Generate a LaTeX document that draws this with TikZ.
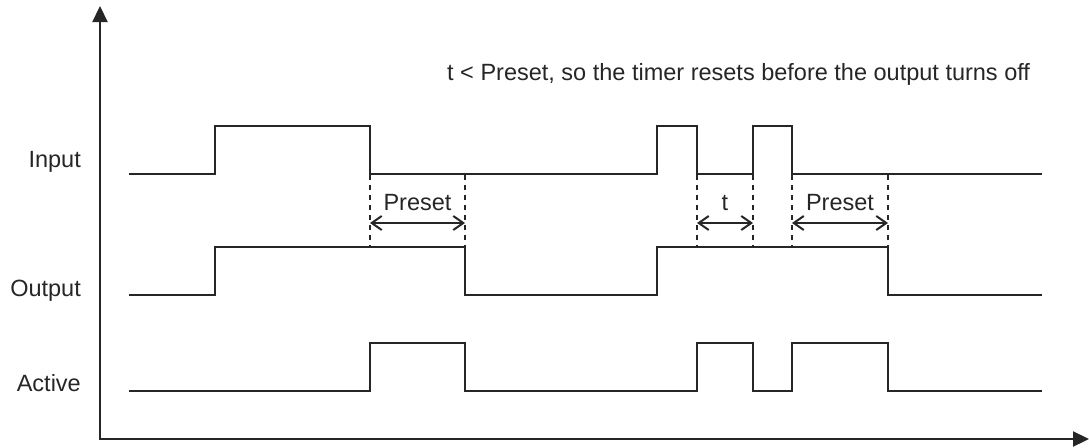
\documentclass[tikz,border=0pt]{standalone}
\usepackage{fontspec}
\setmainfont{Liberation Sans}
\usetikzlibrary{arrows.meta}
\begin{document}
\begin{tikzpicture}[x=1pt,y=-1pt,
  sig/.style={line width=2.4pt, line join=miter, line cap=rect, color=black!85},
  axisline/.style={line width=2.2pt, color=black!85},
  dashln/.style={line width=2.2pt, dash pattern=on 5pt off 5pt, color=black!85},
  dimarrow/.style={line width=1.3pt, color=black!85, {Straight Barb[length=10pt,width=14pt,line width=2pt]}-{Straight Barb[length=10pt,width=14pt,line width=2pt]}},
  lbl/.style={font=\fontsize{23.5}{28}\selectfont, inner sep=0pt, text=black!85}]
\useasboundingbox (0,0) rectangle (1089,447);
% axes
\coordinate (origin) at (100,439);
\coordinate (ytop) at (100,6);
\coordinate (xend) at (1089,439);
\draw[axisline, {Triangle[length=16pt,width=15pt]}-{Triangle[length=16pt,width=15pt]}] (ytop) |- (xend);
% labels
\node[lbl, anchor=base east] (lin) at (81,167) {Input};
\node[lbl, anchor=base east] (lout) at (81,296) {Output};
\node[lbl, anchor=base east] (lact) at (81,391) {Active};
\node[lbl, anchor=base west] (title) at (447,80) {t < Preset, so the timer resets before the output turns off};
% signals
\draw[sig] (130,174) -| (215,126) -| (370,174) -| (657,126) -| (697,174) -| (753,126) -| (792,174) -- (1041,174);
\draw[sig] (130,295) -| (215,247) -| (465,295) -| (657,247) -| (888,295) -- (1041,295);
\draw[sig] (130,391) -| (370,343) -| (465,391) -| (697,343) -| (753,391) -| (792,343) -| (888,391) -- (1041,391);
% dashed markers
\foreach \xx/\nm in {370/da,465/db,697/dc,753/dd,792/de,888/df}{
  \coordinate (\nm t) at (\xx,175);
  \coordinate (\nm b) at (\xx,247);
  \coordinate (\nm m) at (\xx,223);
  \draw[dashln] (\nm t) -- (\nm b);
}
\draw[dimarrow] (dam) -- (dbm);
\draw[dimarrow] (dcm) -- (ddm);
\draw[dimarrow] (dem) -- (dfm);
\node[lbl, anchor=base] (p1) at (417.5,210) {Preset};
\node[lbl, anchor=base] (tt) at (725,210) {t};
\node[lbl, anchor=base] (p2) at (840,210) {Preset};
\end{tikzpicture}
\end{document}
